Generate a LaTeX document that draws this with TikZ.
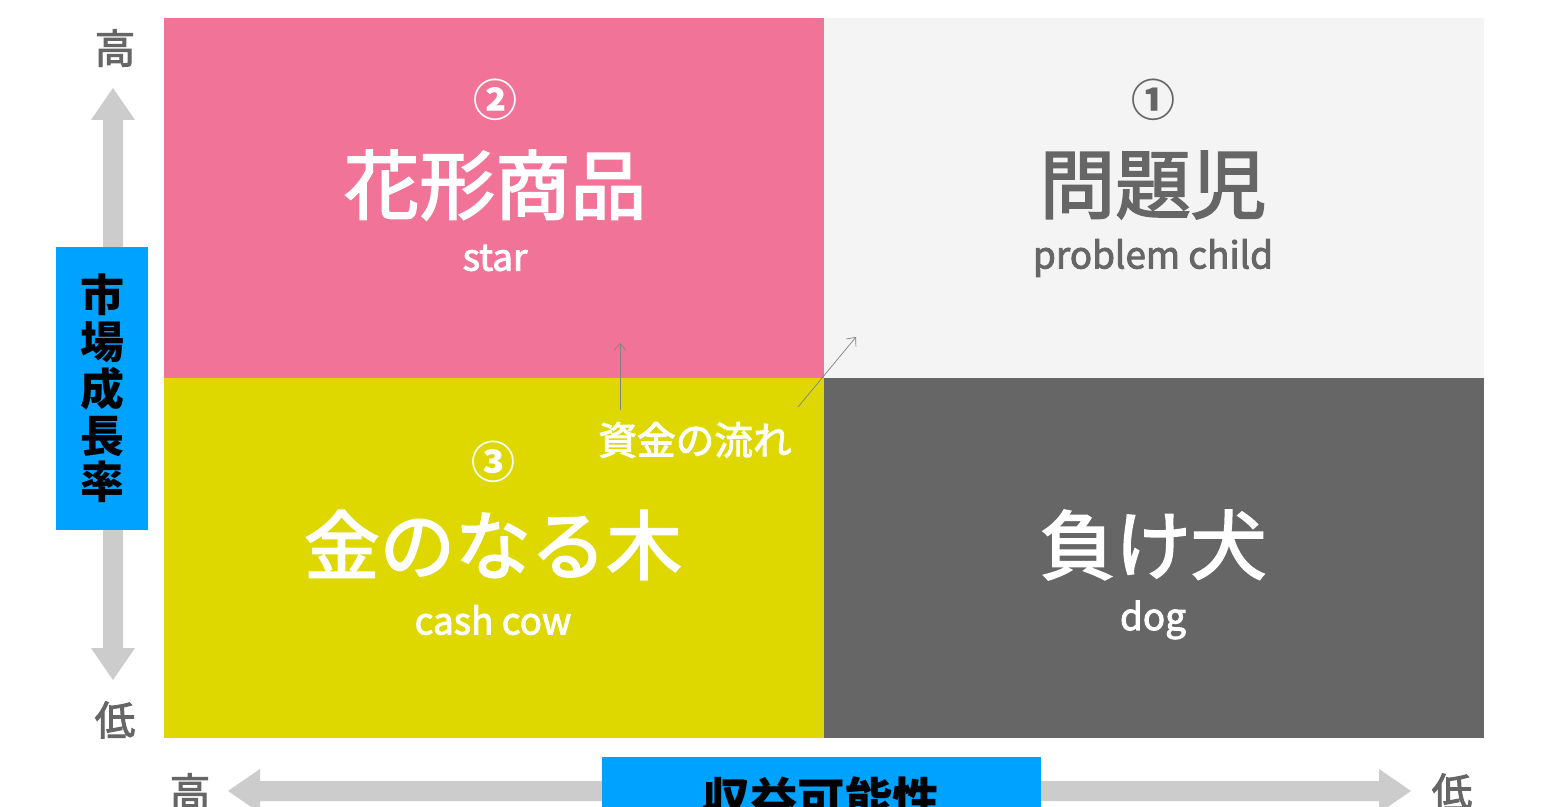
\documentclass[tikz,border=0pt]{standalone}
\usepackage{fontspec}
\setmainfont{Noto Sans CJK JP}
\newfontfamily\medjp{Noto Sans CJK JP}[FakeBold=2.5]
\usetikzlibrary{arrows.meta}
\definecolor{starpink}{RGB}{241,115,152}
\definecolor{childgray}{RGB}{244,244,244}
\definecolor{cowyellow}{RGB}{222,215,0}
\definecolor{doggray}{RGB}{102,102,102}
\definecolor{axisblue}{RGB}{0,162,255}
\definecolor{axisgray}{RGB}{204,204,204}
\definecolor{flowgray}{RGB}{130,130,130}
\tikzset{
	quad/.style={draw=none, inner sep=0pt, minimum width=660*0.02cm, minimum height=360*0.02cm},
	bigname/.style={inner sep=0pt, font=\medjp\fontsize{43pt}{43pt}\selectfont},
	subname/.style={inner sep=0pt, font=\medjp\fontsize{21pt}{21pt}\selectfont},
	numlabel/.style={inner sep=0pt, font=\bfseries\fontsize{25pt}{25pt}\selectfont},
	axislabel/.style={inner sep=0pt, text=doggray, font=\medjp\fontsize{23pt}{23pt}\selectfont},
	axisbox/.style={fill=axisblue, inner sep=0pt, font=\bfseries\fontsize{27pt}{27pt}\selectfont},
	flow/.style={-{Straight Barb[length=4pt,width=7pt]}, flowgray, thin},
}
\begin{document}
\begin{tikzpicture}[x=0.02cm,y=-0.02cm]
		\useasboundingbox[fill=white] (0,0) rectangle (1542,807);
		
		% quadrants
		\node[quad, fill=starpink, anchor=north west] (star) at (164,18) {};
		\node[quad, fill=childgray, anchor=north west] (child) at (824,18) {};
		\node[quad, fill=cowyellow, anchor=north west] (cow) at (164,378) {};
		\node[quad, fill=doggray, anchor=north west] (dog) at (824,378) {};
		
		% labels
		\node[numlabel, text=white] (n2) at (495,100) {②};
		\node[bigname, text=white] (starjp) at (495,185) {花形商品};
		\node[subname, text=white] (staren) at (495,258) {star};
		
		\node[numlabel, text=doggray] (n1) at (1153,100) {①};
		\node[bigname, text=doggray] (childjp) at (1153,185) {問題児};
		\node[subname, text=doggray] (childen) at (1153,258) {problem child};
		
		\node[numlabel, text=white] (n3) at (493,462) {③};
		\node[bigname, text=white] (cowjp) at (493,545) {金のなる木};
		\node[subname, text=white] (cowen) at (493,620) {cash cow};
		
		\node[bigname, text=white] (dogjp) at (1153,545) {負け犬};
		\node[subname, text=white] (dogen) at (1153,620) {dog};
		
		% flow of money
		\node[inner sep=0pt, text=white, font=\medjp\fontsize{22pt}{22pt}\selectfont] (flow) at (695,440) {資金の流れ};
		\coordinate (up0) at (620,410);
		\coordinate (up1) at (620,343);
		\coordinate (dg0) at (798,407);
		\coordinate (dg1) at (856,337);
		\draw[flow] (up0) -- (up1);
		\draw[flow] (dg0) -- (dg1);
		
		% vertical axis
		\node[axislabel] (vhigh) at (115,48) {高};
		\node[axislabel] (vlow) at (115,720) {低};
		\fill[axisgray] (113,88) -- (135,120) -- (123,120) -- (123,648) -- (135,648)
		-- (113,680) -- (91,648) -- (103,648) -- (103,120) -- (91,120) -- cycle;
		\node[axisbox, minimum width=92*0.02cm, minimum height=283*0.02cm, align=center,
		font=\bfseries\fontsize{25pt}{26.6pt}\selectfont] (growth) at (102,388.5) {市\\場\\成\\長\\率};
		
		% horizontal axis
		\node[axislabel] (hhigh) at (190,792) {高};
		\node[axislabel] (hlow) at (1452,792) {低};
		\fill[axisgray] (228,791) -- (260,769) -- (260,781) -- (1379,781) -- (1379,769)
		-- (1411,791) -- (1379,813) -- (1379,801) -- (260,801) -- (260,813) -- cycle;
		\node[axisbox, minimum width=439*0.02cm, minimum height=100*0.02cm, anchor=north] (profit) at (821.5,757) {};
		\node[inner sep=0pt, font=\bfseries\fontsize{27pt}{27pt}\selectfont, anchor=north] (profittext) at (821.5,776) {収益可能性};
		
	\end{tikzpicture}
\end{document}
